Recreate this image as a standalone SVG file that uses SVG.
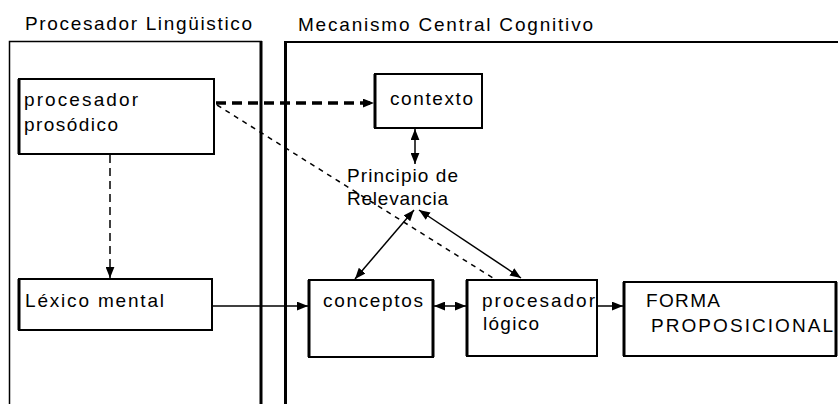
<svg xmlns="http://www.w3.org/2000/svg" width="838" height="404" viewBox="0 0 838 404">
<style>
text{font-family:"Liberation Sans",Arial,sans-serif;font-size:19px;fill:#000}
.box{fill:#fff;stroke:#000;stroke-width:2}
.edge{stroke:#000;stroke-width:3}
.ln{stroke:#000;stroke-width:1.5;fill:none}
.dashT{stroke:#000;stroke-width:3.5;fill:none;stroke-dasharray:10 6}
.dashV{stroke:#000;stroke-width:1.5;fill:none;stroke-dasharray:8 5}
.dashD{stroke:#000;stroke-width:1.5;fill:none;stroke-dasharray:5 5}
</style>
<defs>
<marker id="ah" viewBox="0 0 10 8" refX="10" refY="4" markerWidth="11" markerHeight="9" markerUnits="userSpaceOnUse" orient="auto-start-reverse">
<path d="M0,0 L10,4 L0,8 z" fill="#000"/>
</marker>
</defs>
<rect width="838" height="404" fill="#fff"/>
<g id="panel-linguistico">
<path d="M9.5,404 V41.5 H262" class="ln"/>
<line x1="261" y1="41" x2="261" y2="404" class="edge"/>
<text x="25" y="30" textLength="227" lengthAdjust="spacing">Procesador Lingüistico</text>
</g>
<g id="panel-cognitivo">
<line x1="285" y1="42" x2="838" y2="42" stroke="#000" stroke-width="2"/>
<line x1="285.5" y1="41" x2="285.5" y2="404" class="edge"/>
<text x="298" y="31" textLength="295" lengthAdjust="spacing">Mecanismo Central Cognitivo</text>
</g>
<g id="connectors">
<line x1="216" y1="103" x2="374" y2="103" class="dashT" marker-end="url(#ah)"/>
<line x1="110" y1="155" x2="110" y2="278" class="dashV" marker-end="url(#ah)"/>
<line x1="217" y1="105" x2="493" y2="278" class="dashD"/>
<line x1="212" y1="306" x2="308" y2="306" class="ln" marker-end="url(#ah)"/>
<line x1="415" y1="129" x2="415" y2="164" class="ln" marker-start="url(#ah)" marker-end="url(#ah)"/>
<line x1="414" y1="210" x2="355" y2="279" class="ln" marker-start="url(#ah)" marker-end="url(#ah)"/>
<line x1="419" y1="210" x2="521" y2="278" class="ln" marker-start="url(#ah)" marker-end="url(#ah)"/>
<line x1="434" y1="306" x2="466" y2="306" class="ln" marker-start="url(#ah)" marker-end="url(#ah)"/>
<line x1="597" y1="306" x2="623" y2="306" class="ln" marker-end="url(#ah)"/>
</g>
<g id="procesador-prosodico">
<rect x="19" y="79" width="195" height="75" class="box"/>
<line x1="19" y1="79" x2="19" y2="154" class="edge"/>
<text x="24" y="106" textLength="114" lengthAdjust="spacing">procesador</text>
<text x="24" y="131" textLength="94" lengthAdjust="spacing">prosódico</text>
</g>
<g id="lexico-mental">
<rect x="19" y="279" width="193" height="51" class="box"/>
<line x1="19" y1="279" x2="19" y2="330" class="edge"/>
<text x="25" y="307" textLength="139" lengthAdjust="spacing">Léxico mental</text>
</g>
<g id="contexto">
<rect x="375" y="74" width="107" height="54" class="box"/>
<line x1="375" y1="74" x2="375" y2="128" class="edge"/>
<text x="390" y="105" textLength="83" lengthAdjust="spacing">contexto</text>
</g>
<g id="principio-relevancia">
<text x="347" y="182" textLength="111" lengthAdjust="spacing">Principio de</text>
<text x="347" y="205" textLength="101" lengthAdjust="spacing">Relevancia</text>
</g>
<g id="conceptos">
<rect x="309" y="280" width="124" height="77" class="box"/>
<line x1="309" y1="280" x2="309" y2="357" class="edge"/>
<line x1="433" y1="280" x2="433" y2="357" class="edge"/>
<text x="323" y="307" textLength="100" lengthAdjust="spacing">conceptos</text>
</g>
<g id="procesador-logico">
<rect x="467" y="280" width="130" height="76" class="box"/>
<line x1="467" y1="280" x2="467" y2="356" class="edge"/>
<text x="482" y="307" textLength="113" lengthAdjust="spacing">procesador</text>
<text x="483" y="330" textLength="56" lengthAdjust="spacing">lógico</text>
</g>
<g id="forma-proposicional">
<rect x="624" y="282" width="212" height="74" class="box"/>
<line x1="624" y1="282" x2="624" y2="356" class="edge"/>
<line x1="836" y1="282" x2="836" y2="356" class="edge"/>
<text x="646" y="307" textLength="74" lengthAdjust="spacing">FORMA</text>
<text x="651" y="332" textLength="182" lengthAdjust="spacing">PROPOSICIONAL</text>
</g>
</svg>
